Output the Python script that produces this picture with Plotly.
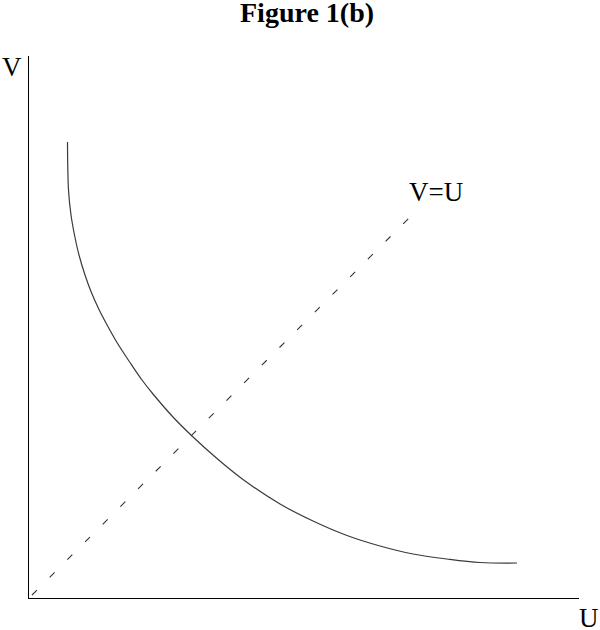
import plotly.graph_objects as go

# Data (U, V)
curve_u = [38.5, 39.5, 42, 45.5, 50, 56, 62, 70, 77, 88, 101, 113, 124, 144, 163, 188, 214, 251, 284, 318, 351, 384, 418, 451, 488]
curve_v = [456, 408, 383, 363, 343, 323, 306.5, 288.5, 275, 255.5, 235.5, 218, 204, 181, 162, 139.5, 118.5, 94, 77, 62.5, 52, 44, 39, 35.5, 35]
diag_u = [3, 386]
diag_v = [3, 386]

FONT = "Liberation Serif, Times New Roman, serif"

fig = go.Figure()
fig.add_trace(go.Scatter(x=curve_u, y=curve_v, mode="lines",
                         line=dict(color="#3a3a3a", width=1.2, shape="spline", smoothing=1.0),
                         showlegend=False, hoverinfo="skip"))
fig.add_trace(go.Scatter(x=diag_u, y=diag_v, mode="lines",
                         line=dict(color="#333333", width=1.1, dash="7px,18px"),
                         showlegend=False, hoverinfo="skip"))

fig.update_layout(
    width=600, height=630,
    margin=dict(l=29, r=21, t=56, b=32),
    paper_bgcolor="white", plot_bgcolor="white",
    font=dict(family=FONT, color="black"),
    xaxis=dict(range=[0, 550], showgrid=False, zeroline=False, showticklabels=False,
               ticks="", showline=True, linecolor="black", linewidth=1.3),
    yaxis=dict(range=[0, 542], showgrid=False, zeroline=False, showticklabels=False,
               ticks="", showline=True, linecolor="black", linewidth=1.3),
    annotations=[
        dict(x=0.5055, y=1.0795, xref="paper", yref="paper", text="<b>Figure 1(b)</b>", showarrow=False,
             font=dict(size=28, family=FONT, color="black"), xanchor="center", yanchor="middle"),
        dict(x=-0.031, y=0.979, xref="paper", yref="paper", text="V", showarrow=False,
             font=dict(size=27, family=FONT, color="black"), xanchor="center", yanchor="middle"),
        dict(x=1.018, y=-0.036, xref="paper", yref="paper", text="U", showarrow=False,
             font=dict(size=27, family=FONT, color="black"), xanchor="center", yanchor="middle"),
        dict(x=407, y=406, xref="x", yref="y", text="V=U", showarrow=False,
             font=dict(size=27, family=FONT, color="black"), xanchor="center", yanchor="middle"),
    ],
)

fig.write_html("out.html", config={"displayModeBar": False},
               post_script="document.body.style.margin='0';document.body.style.padding='0';")
